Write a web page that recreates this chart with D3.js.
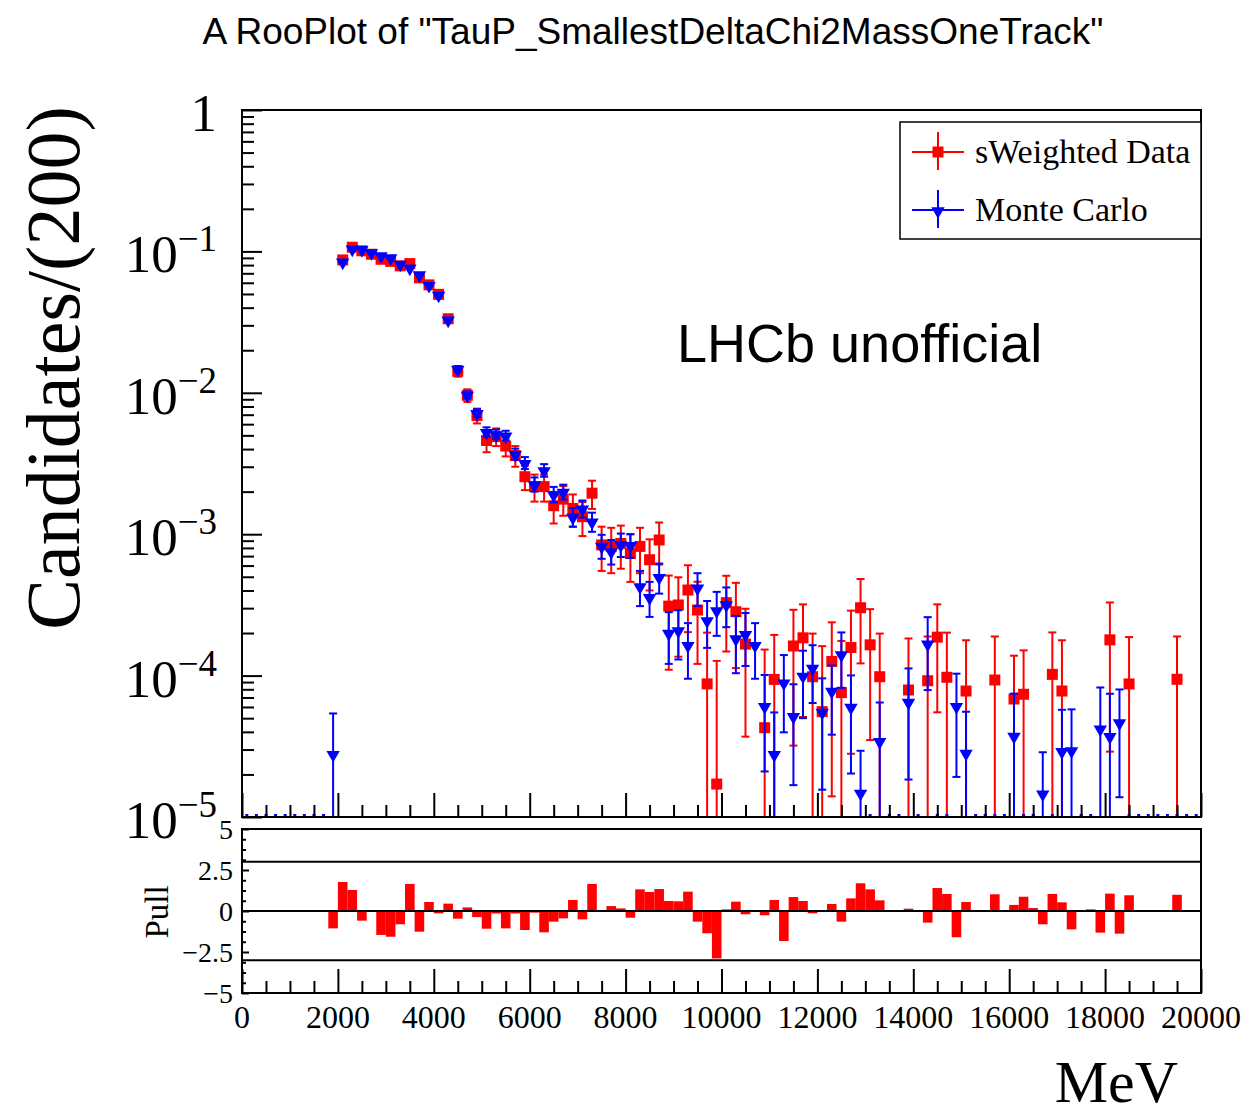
<!DOCTYPE html>
<html>
<head>
<meta charset="utf-8">
<script src="https://cdn.jsdelivr.net/npm/d3@7"></script>
<style>
  body { margin: 0; background: #fff; }
  svg text { fill: #000; }
</style>
</head>
<body>
<svg id="chart" width="1246" height="1117"></svg>
<script>
'use strict';

// 100 bins of 200 MeV between 0 and 20000
const binWidth = 200;
const binCenters = d3.range(100, 20000, binWidth);

// sWeighted data (0 = empty bin, not drawn on the log axis)
const dataVals = [
  0, 0, 0, 0, 0, 0, 0, 0, 0, 0,
  0.087, 0.107, 0.101, 0.0955, 0.088, 0.085, 0.079, 0.082, 0.065, 0.058,
  0.0497, 0.0334, 0.0142, 0.0096, 0.0069, 0.0046, 0.0049, 0.0042, 0.0036, 0.00255,
  0.00217, 0.00217, 0.00159, 0.00177, 0.00152, 0.00133, 0.00195, 0.00084, 0.00082, 0.00086,
  0.00073, 0.00082, 0.00066, 0.00091, 0.00031, 0.000316, 0.000403, 0.000291, 0.0000873, 0.0000171,
  0.000328, 0.000283, 0.000167, 0, 0.0000428, 0.000094, 0, 0.000162, 0.000185, 0.0000982,
  0.0000556, 0.000126, 0.0000758, 0.000158, 0.000302, 0.000165, 0.0000982, 0, 0, 0.0000791,
  0, 0.000092, 0.000187, 0.0000973, 0, 0.0000778, 0, 0, 0.0000931, 0,
  0.0000683, 0.0000738, 0, 0, 0.000102, 0.0000778, 0, 0, 0, 0,
  0.000179, 0, 0.0000873, 0, 0, 0, 0, 0.0000942, 0, 0
];
const dataErr = [
  0, 0, 0, 0, 0, 0, 0, 0, 0, 0,
  0.0029, 0.0033, 0.0032, 0.0031, 0.003, 0.0029, 0.0028, 0.0029, 0.0026, 0.0024,
  0.0022, 0.0018, 0.0012, 0.00098, 0.00083, 0.0008, 0.0007, 0.00065, 0.0006, 0.0005,
  0.00047, 0.00047, 0.0004, 0.00042, 0.00039, 0.00036, 0.00044, 0.00029, 0.00029, 0.00029,
  0.00027, 0.00029, 0.00026, 0.0003, 0.0002, 0.00018, 0.0002, 0.00017, 0.000114, 0.00011,
  0.00018, 0.00017, 0.00013, 0, 0.00011, 0.0001, 0, 0.00013, 0.000134, 0.0001,
  0.000106, 0.000112, 0.0001, 0.00013, 0.00018, 0.00013, 0.0001, 0, 0, 0.000104,
  0, 0.000097, 0.000132, 0.000104, 0, 0.0001, 0, 0, 0.000096, 0,
  0.00007, 0.000077, 0, 0, 0.0001, 0.0001, 0, 0, 0, 0,
  0.00015, 0, 0.0001, 0, 0, 0, 0, 0.000095, 0, 0
];

// Monte Carlo
const mcVals = [
  0, 0, 0, 0, 0, 0, 0, 0, 0, 0.000028,
  0.085, 0.105, 0.104, 0.099, 0.094, 0.091, 0.082, 0.077, 0.069, 0.058,
  0.0495, 0.033, 0.0148, 0.0097, 0.0072, 0.0053, 0.0051, 0.005, 0.0037, 0.0032,
  0.00226, 0.00284, 0.00192, 0.002, 0.00133, 0.00152, 0.00123, 0.00083, 0.00076, 0.00085,
  0.00084, 0.00043, 0.00036, 0.0005, 0.000201, 0.00021, 0.000165, 0.00042, 0.000247, 0.000291,
  0.00032, 0.000184, 0.000197, 0.000165, 0.000061, 0.0000279, 0.0000897, 0.0000518, 0.0001, 0.000114,
  0.0000556, 0.0000782, 0.000142, 0.0000603, 0.0000149, 0, 0.0000345, 0, 0, 0.0000654,
  0, 0.000169, 0, 0, 0.0000612, 0.0000285, 0, 0, 0, 0,
  0.0000376, 0, 0, 0.0000147, 0, 0.0000293, 0.0000297, 0, 0, 0.0000424,
  0.0000374, 0.0000468, 0, 0, 0, 0, 0, 0, 0, 0
];
const mcErr = [
  0, 0, 0, 0, 0, 0, 0, 0, 0, 0.000026,
  0.0016, 0.0018, 0.0018, 0.0017, 0.0017, 0.0017, 0.0016, 0.0015, 0.0014, 0.0013,
  0.0012, 0.001, 0.00067, 0.00054, 0.00046, 0.0004, 0.00039, 0.00039, 0.00033, 0.00031,
  0.00026, 0.00029, 0.00024, 0.00024, 0.0002, 0.00021, 0.00019, 0.00016, 0.00015, 0.00016,
  0.00016, 0.00012, 0.0001, 0.00012, 0.00008, 0.00008, 0.00007, 0.00011, 0.00009, 0.0001,
  0.0001, 0.00008, 0.00008, 0.00007, 0.00004, 0.000027, 0.00005, 0.000035, 0.00005, 0.00005,
  0.00004, 0.00004, 0.00006, 0.00004, 0.0000145, 0, 0.00003, 0, 0, 0.000047,
  0, 0.00009, 0, 0, 0.000042, 0.000027, 0, 0, 0, 0,
  0.000037, 0, 0, 0.000014, 0, 0.000028, 0.000028, 0, 0, 0.00004,
  0.000037, 0.000033, 0, 0, 0, 0, 0, 0, 0, 0
];

// pull (data - MC) / sigma per bin
const pullVals = [
  0, 0, 0, 0, 0, 0, 0, 0, 0, -1.06,
  1.77, 1.28, -0.59, -0.05, -1.46, -1.57, -0.81, 1.65, -1.26, 0.55,
  -0.14, 0.45, -0.47, 0.22, -0.37, -1.08, -0.15, -1.06, -0.15, -1.16,
  -0.1, -1.3, -0.65, -0.45, 0.67, -0.51, 1.65, 0.05, 0.3, 0.16,
  -0.41, 1.32, 1.16, 1.34, 0.61, 0.59, 1.18, -0.65, -1.36, -2.89,
  0.1, 0.57, -0.2, 0, -0.26, 0.67, -1.83, 0.85, 0.61, -0.14,
  0.04, 0.43, -0.65, 0.77, 1.69, 1.32, 0.65, 0, 0, 0.14,
  0, -0.71, 1.4, 1.04, -1.6, 0.55, 0, 0, 1.02, 0,
  0.37, 0.87, 0.18, -0.81, 1.04, 0.53, -1.12, 0, 0.1, -1.32,
  1.06, -1.38, 0.96, 0, 0.04, 0, 0, 0.99, 0, 0
];

const xMajorTicks = d3.range(0, 20001, 2000);
const xMinorTicks = d3.range(0, 20001, 500).filter(v => v % 2000 !== 0);
const yDecades = [0, -1, -2, -3, -4, -5];
const pullMajorTicks = [-5, -2.5, 0, 2.5, 5];
const pullLabels = ['\u22125', '\u22122.5', '0', '2.5', '5'];
const sigmaLines = [-3, 0, 3];

const seriesNames = ['sWeighted Data', 'Monte Carlo'];
const titleText = 'A RooPlot of "TauP_SmallestDeltaChi2MassOneTrack"';

const SERIF = '"Liberation Serif", "Times New Roman", serif';
const SANS = '"Liberation Sans", Arial, Helvetica, sans-serif';
const RED = '#ff0000';
const BLUE = '#0000ff';

const frame = {left: 242, right: 1201, top: 110, bottom: 817};
const pullFrame = {top: 829, bottom: 993};

const svg = d3.select('#chart');

const x = d3.scaleLinear().domain([0, 20000]).range([frame.left, frame.right]);
const y = d3.scaleLog().domain([1e-5, 1]).range([frame.bottom, frame.top]);
const yPull = d3.scaleLinear().domain([-5, 5]).range([pullFrame.bottom, pullFrame.top]);

svg.append('defs').append('clipPath').attr('id', 'plotClip')
  .append('rect')
  .attr('x', frame.left).attr('y', frame.top)
  .attr('width', frame.right - frame.left).attr('height', frame.bottom - frame.top);

// title
svg.append('text')
  .attr('x', 653).attr('y', 44)
  .attr('text-anchor', 'middle')
  .style('font-family', SANS).style('font-size', '37px')
  .text(titleText);

// ---------- main pad ----------
const points = binCenters.map((c, i) => ({
  c, d: dataVals[i], de: dataErr[i], m: mcVals[i], me: mcErr[i]
}));

const plot = svg.append('g').attr('clip-path', 'url(#plotClip)');

function drawSeries(g, rows, valKey, errKey, color) {
  const sel = rows.filter(r => r[valKey] > 0);
  const cap = 4;
  const bars = g.append('g').attr('stroke', color).attr('stroke-width', 2);
  sel.forEach(r => {
    const v = r[valKey], e = r[errKey];
    const yTop = y(v + e);
    const yBot = v - e > 1e-5 ? y(v - e) : frame.bottom + 10;
    const cx = x(r.c);
    bars.append('line').attr('x1', cx).attr('x2', cx).attr('y1', yTop).attr('y2', yBot);
    bars.append('line').attr('x1', cx - cap).attr('x2', cx + cap).attr('y1', yTop).attr('y2', yTop);
    if (v - e > 1e-5) {
      bars.append('line').attr('x1', cx - cap).attr('x2', cx + cap).attr('y1', yBot).attr('y2', yBot);
    }
  });
  return sel;
}

// data first, MC drawn on top
const redPts = drawSeries(plot, points, 'd', 'de', RED);
plot.append('g').selectAll('rect').data(redPts).join('rect')
  .attr('x', d => x(d.c) - 5.5).attr('y', d => y(d.d) - 5.5)
  .attr('width', 11).attr('height', 11)
  .attr('fill', RED);

const bluePts = drawSeries(plot, points, 'm', 'me', BLUE);
const triDown = d3.symbol().type(d3.symbolTriangle).size(78);
plot.append('g').selectAll('path').data(bluePts).join('path')
  .attr('d', triDown)
  .attr('transform', d => `translate(${x(d.c)},${y(d.m) + 1}) rotate(180)`)
  .attr('fill', BLUE);

// empty MC bins sit on the lower edge
plot.append('g').selectAll('rect').data(points.filter(p => !(p.m > 0))).join('rect')
  .attr('x', d => x(d.c) - 1.5).attr('y', frame.bottom - 3)
  .attr('width', 3).attr('height', 3)
  .attr('fill', BLUE);

// main axes
function styleTicks(g) {
  g.select('.domain').remove();
  g.selectAll('line').attr('stroke', '#000').attr('stroke-width', 2);
  g.selectAll('text').remove();
}

svg.append('g').attr('transform', `translate(0,${frame.bottom})`)
  .call(d3.axisBottom(x).tickValues(xMajorTicks).tickSizeInner(-24).tickSizeOuter(0).tickFormat(''))
  .call(styleTicks);
svg.append('g').attr('transform', `translate(0,${frame.bottom})`)
  .call(d3.axisBottom(x).tickValues(xMinorTicks).tickSizeInner(-12).tickSizeOuter(0).tickFormat(''))
  .call(styleTicks);

const yMajor = yDecades.map(p => Math.pow(10, p));
const yMinor = [];
yDecades.slice(1).forEach(p => d3.range(2, 10).forEach(k => yMinor.push(k * Math.pow(10, p))));

svg.append('g').attr('transform', `translate(${frame.left},0)`)
  .call(d3.axisLeft(y).tickValues(yMajor).tickSizeInner(-20).tickSizeOuter(0).tickFormat(''))
  .call(styleTicks);
svg.append('g').attr('transform', `translate(${frame.left},0)`)
  .call(d3.axisLeft(y).tickValues(yMinor).tickSizeInner(-12).tickSizeOuter(0).tickFormat(''))
  .call(styleTicks);

svg.append('rect')
  .attr('x', frame.left).attr('y', frame.top)
  .attr('width', frame.right - frame.left).attr('height', frame.bottom - frame.top)
  .attr('fill', 'none').attr('stroke', '#000').attr('stroke-width', 2);

// y labels 1, 10^-1 ...
const yLab = svg.append('g').style('font-family', SERIF);
yDecades.forEach(p => {
  const ty = y(Math.pow(10, p));
  const t = yLab.append('text')
    .attr('x', 217).attr('y', ty + 21)
    .attr('text-anchor', 'end')
    .style('font-size', '53px');
  if (p === 0) {
    t.text('1');
  } else {
    t.append('tspan').text('10');
    t.append('tspan').attr('dy', -21).style('font-size', '37px').text('\u2212' + Math.abs(p));
  }
});

svg.append('text')
  .attr('transform', 'translate(79,368) rotate(-90)')
  .attr('text-anchor', 'middle')
  .style('font-family', SERIF).style('font-size', '76px')
  .text('Candidates/(200)');

// LHCb label
svg.append('text')
  .attr('x', 677).attr('y', 362)
  .style('font-family', SANS).style('font-size', '54px')
  .text('LHCb unofficial');

// legend
const legend = svg.append('g');
legend.append('rect')
  .attr('x', 900).attr('y', 122).attr('width', 301).attr('height', 117)
  .attr('fill', '#fff').attr('stroke', '#000').attr('stroke-width', 1.5);

const legendRows = [
  {name: seriesNames[0], color: RED, yy: 152, kind: 'square'},
  {name: seriesNames[1], color: BLUE, yy: 210, kind: 'tri'}
];
legendRows.forEach(r => {
  const g = legend.append('g').attr('stroke', r.color).attr('stroke-width', 2);
  g.append('line').attr('x1', 912).attr('x2', 964).attr('y1', r.yy).attr('y2', r.yy);
  g.append('line').attr('x1', 938).attr('x2', 938).attr('y1', r.yy - 20).attr('y2', r.yy + 18);
  if (r.kind === 'square') {
    legend.append('rect').attr('x', 932.5).attr('y', r.yy - 5.5).attr('width', 11).attr('height', 11).attr('fill', r.color);
  } else {
    legend.append('path').attr('d', triDown).attr('transform', `translate(938,${r.yy + 1}) rotate(180)`).attr('fill', r.color);
  }
  legend.append('text')
    .attr('x', 975).attr('y', r.yy + 11)
    .style('font-family', SERIF).style('font-size', '34px')
    .text(r.name);
});

// ---------- pull pad ----------
const pullG = svg.append('g');
pullG.selectAll('rect').data(binCenters.map((c, i) => ({c, p: pullVals[i]})).filter(d => d.p !== 0)).join('rect')
  .attr('x', d => x(d.c - binWidth / 2))
  .attr('width', d => x(d.c + binWidth / 2) - x(d.c - binWidth / 2))
  .attr('y', d => yPull(Math.max(0, d.p)))
  .attr('height', d => Math.abs(yPull(d.p) - yPull(0)))
  .attr('fill', RED);

pullG.selectAll('line.sigma').data(sigmaLines).join('line')
  .attr('class', 'sigma')
  .attr('x1', frame.left).attr('x2', frame.right)
  .attr('y1', d => yPull(d)).attr('y2', d => yPull(d))
  .attr('stroke', '#000').attr('stroke-width', 2);

svg.append('g').attr('transform', `translate(0,${pullFrame.bottom})`)
  .call(d3.axisBottom(x).tickValues(xMajorTicks).tickSizeInner(-24).tickSizeOuter(0).tickFormat(''))
  .call(styleTicks);
svg.append('g').attr('transform', `translate(0,${pullFrame.bottom})`)
  .call(d3.axisBottom(x).tickValues(xMinorTicks).tickSizeInner(-12).tickSizeOuter(0).tickFormat(''))
  .call(styleTicks);

const pullMinor = d3.range(-5, 5.001, 0.625).filter(v => Math.abs(v % 2.5) > 1e-6);
svg.append('g').attr('transform', `translate(${frame.left},0)`)
  .call(d3.axisLeft(yPull).tickValues(pullMajorTicks).tickSizeInner(-7).tickSizeOuter(0).tickFormat(''))
  .call(styleTicks);
svg.append('g').attr('transform', `translate(${frame.left},0)`)
  .call(d3.axisLeft(yPull).tickValues(pullMinor).tickSizeInner(-4).tickSizeOuter(0).tickFormat(''))
  .call(styleTicks);

svg.append('rect')
  .attr('x', frame.left).attr('y', pullFrame.top)
  .attr('width', frame.right - frame.left).attr('height', pullFrame.bottom - pullFrame.top)
  .attr('fill', 'none').attr('stroke', '#000').attr('stroke-width', 2);

svg.append('g').style('font-family', SERIF).style('font-size', '28px')
  .selectAll('text').data(pullMajorTicks).join('text')
  .attr('x', 233).attr('y', d => yPull(d) + 10)
  .attr('text-anchor', 'end')
  .text((d, i) => pullLabels[i]);

svg.append('text')
  .attr('transform', 'translate(168,912) rotate(-90)')
  .attr('text-anchor', 'middle')
  .style('font-family', SERIF).style('font-size', '33px')
  .text('Pull');

svg.append('g').style('font-family', SERIF).style('font-size', '32px')
  .selectAll('text').data(xMajorTicks).join('text')
  .attr('x', d => x(d)).attr('y', 1028)
  .attr('text-anchor', 'middle')
  .text(d => String(d));

svg.append('text')
  .attr('x', 1178).attr('y', 1102)
  .attr('text-anchor', 'end')
  .style('font-family', SERIF).style('font-size', '60px')
  .text('MeV');
</script>
</body>
</html>
